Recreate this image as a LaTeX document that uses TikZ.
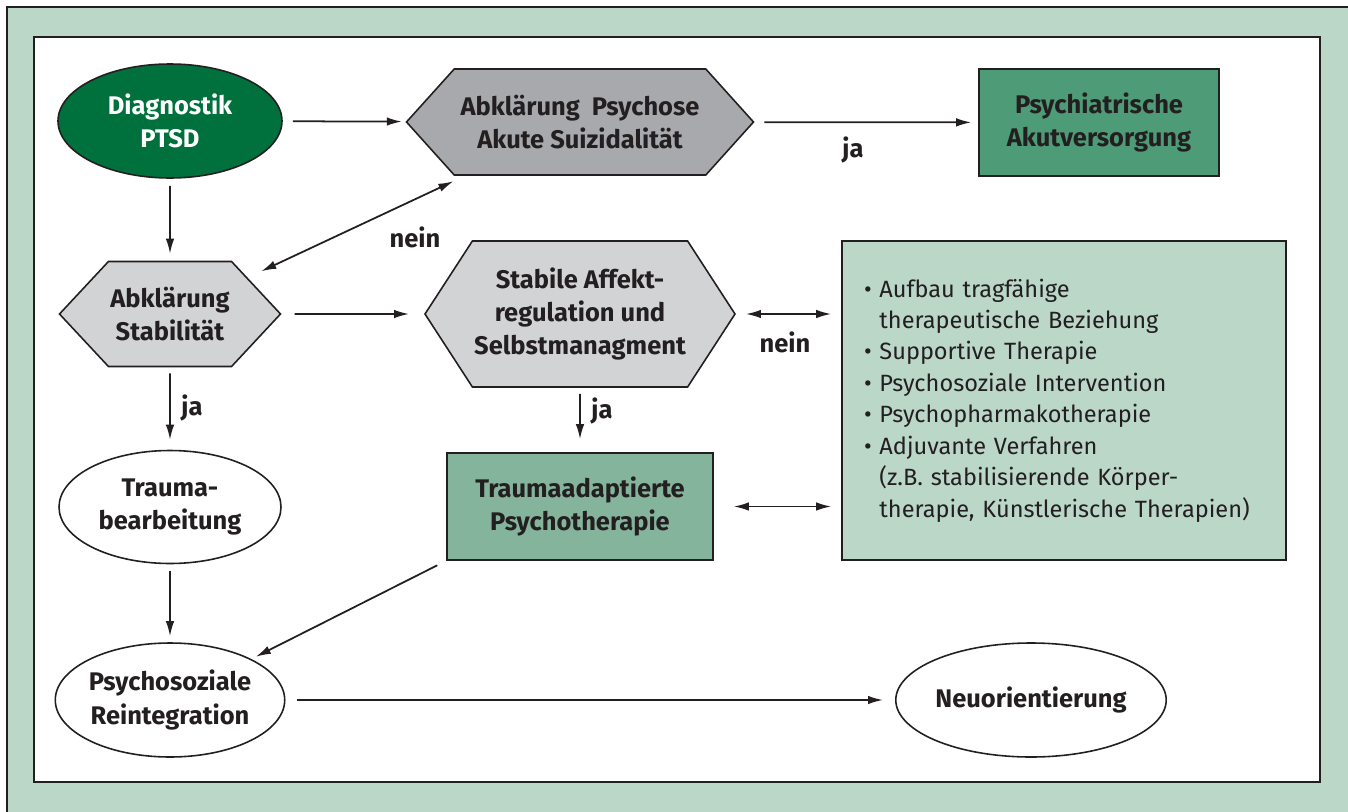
\documentclass[tikz,border=0pt]{standalone}
\usepackage{fontspec}
\setmainfont{Fira Sans}
\usetikzlibrary{shapes.geometric,shapes.symbols,arrows.meta}

\definecolor{rahmengruen}{HTML}{BAD7C8}
\definecolor{dunkelgruen}{HTML}{00703C}
\definecolor{mittelgruen}{HTML}{4E9B77}
\definecolor{hellgruen}{HTML}{84B59C}
\definecolor{dunkelgrau}{HTML}{A7A9AC}
\definecolor{hellgrau}{HTML}{D1D3D4}
\definecolor{textgrau}{HTML}{231F20}

\newcommand{\einr}{\hphantom{\textbullet\ }}

\tikzset{
  schrift/.style={font=\bfseries\fontsize{14.5}{19}\selectfont},
  pfeil/.style={line width=1pt,draw=textgrau,-{Latex[length=3mm,width=1.7mm]},
    shorten <=2mm,shorten >=2mm},
  doppelpfeil/.style={pfeil,{Latex[length=3mm,width=1.7mm]}-{Latex[length=3mm,width=1.7mm]}},
  oval/.style={ellipse,draw=textgrau,line width=0.9pt,fill=white,inner sep=0pt,
    align=center,text=textgrau,schrift},
  sechseck/.style={signal,signal to=west and east,draw=textgrau,line width=0.9pt,
    inner sep=0pt,align=center,text=textgrau,schrift},
  kasten/.style={rectangle,draw=textgrau,line width=0.9pt,inner sep=0pt,
    align=center,text=textgrau,schrift},
  beschr/.style={text=textgrau,schrift,inner sep=0pt}
}

\begin{document}
\begin{tikzpicture}[x=0.2mm,y=-0.2mm]

\useasboundingbox (0,0) rectangle (1348,812);

% frame
\fill[rahmengruen] (7,7) rectangle (1348,812);
\draw[textgrau,line width=0.6pt] (7,812) -- (7,7) -- (1348,7);
\filldraw[fill=white,draw=textgrau,line width=1.2pt] (34,37) rectangle (1320,782);

% nodes
\node[oval,fill=dunkelgruen,text=white,minimum width=44.8mm,minimum height=22.8mm]
  (diag) at (170,121) {Diagnostik\\PTSD};
\node[sechseck,fill=dunkelgrau,minimum width=69.4mm,minimum height=21.2mm,
  signal pointer angle=96] (psych) at (580,122) {Abklärung\ \ Psychose\\Akute Suizidalität};
\node[kasten,fill=mittelgruen,minimum width=48mm,minimum height=21.4mm]
  (akut) at (1099,122.5) {Psychiatrische\\Akutversorgung};

\node[sechseck,fill=hellgrau,minimum width=44.2mm,minimum height=21mm,
  signal pointer angle=94] (stab) at (170,314) {Abklärung\\Stabilität};
\node[sechseck,fill=hellgrau,minimum width=62mm,minimum height=29.2mm,
  signal pointer angle=114] (affekt) at (580,314) {Stabile Affekt-\\regulation und\\Selbstmanagment};
\node[rectangle,draw=textgrau,line width=0.9pt,fill=rahmengruen,text=textgrau,
  font=\fontsize{13.4}{17.9}\selectfont,align=left,text width=80mm,inner xsep=4.4mm,
  minimum height=63.8mm] (massn) at (1064,400.5)
  {\textbullet\ Aufbau tragfähige\\
   \einr therapeutische Beziehung\\
   \textbullet\ Supportive Therapie\\
   \textbullet\ Psychosoziale Intervention\\
   \textbullet\ Psychopharmakotherapie\\
   \textbullet\ Adjuvante Verfahren\\
   \einr (z.B. stabilisierende Körper-\\
   \einr therapie, Künstlerische Therapien)};

\node[oval,minimum width=44.4mm,minimum height=22.6mm]
  (trauma) at (170,507) {Trauma-\\bearbeitung};
\node[kasten,fill=hellgruen,minimum width=53.2mm,minimum height=21.4mm]
  (tpt) at (580,506.5) {Traumaadaptierte\\Psychotherapie};

\node[oval,minimum width=44.6mm,minimum height=22.8mm]
  (reint) at (170,700) {Psychosoziale\\Reintegration};
\node[oval,minimum width=49.6mm,minimum height=22.8mm]
  (neu) at (1031,700) {Neuorientierung};

% labels
\node[beschr] (ja1) at (853,150) {ja};
\node[beschr] (nein1) at (415,237) {nein};
\node[beschr] (nein2) at (785,342) {nein};
\node[beschr] (ja2) at (192,408) {ja};
\node[beschr] (ja3) at (602,411) {ja};

% connectors
\draw[pfeil,shorten >=0.8mm] (diag) -- (psych);
\draw[pfeil,shorten >=1.4mm] (psych) -- (akut);
\draw[pfeil,shorten <=1.4mm,shorten >=1.4mm] (diag) -- (stab);
\draw[doppelpfeil,shorten <=3mm,shorten >=2.6mm] (stab) -- (psych);
\draw[pfeil,shorten <=2.6mm,shorten >=3mm] (stab) -- (affekt);
\draw[doppelpfeil] (affekt.east) -- (affekt.east -| massn.west);
\draw[pfeil,shorten <=1.2mm,shorten >=2.6mm] (affekt) -- (tpt);
\draw[doppelpfeil,shorten <=4mm] (tpt.east) -- (tpt.east -| massn.west);
\draw[pfeil,shorten <=1.2mm] (stab) -- (trauma);
\draw[pfeil,shorten <=1.4mm,shorten >=1.2mm] (trauma) -- (reint);
\draw[pfeil,shorten >=1mm] (tpt.south west) -- (reint);
\draw[pfeil,shorten <=2.2mm,shorten >=2.4mm] (reint) -- (neu);

\end{tikzpicture}
\end{document}
